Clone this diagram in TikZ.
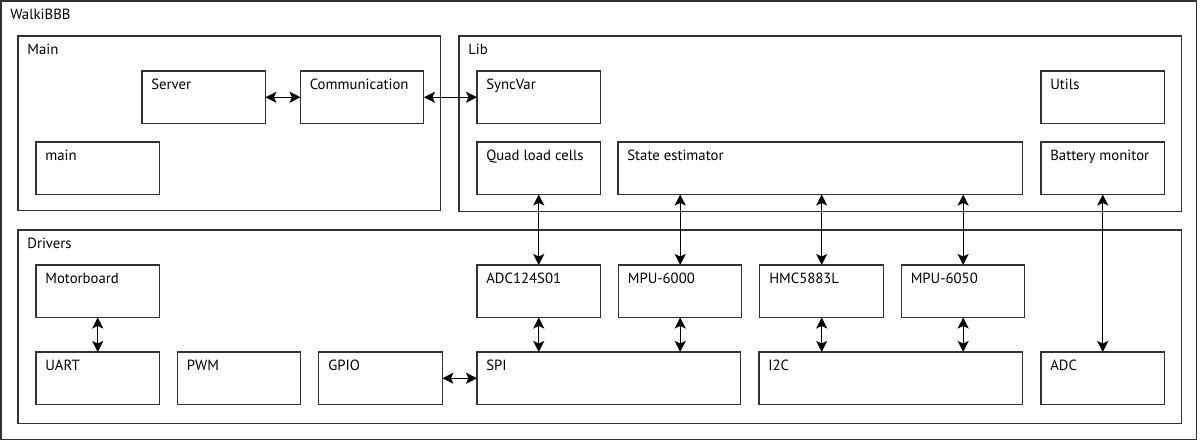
\documentclass[tikz,border=0pt]{standalone}
\usepackage{fontspec}
\setmainfont{PT Sans}
\usetikzlibrary{arrows.meta, positioning}

\tikzset{
  panel/.style={draw=black!80, line width=0.6pt, anchor=north west, inner sep=0pt, outer sep=0pt},
  blk/.style={panel, minimum width=2.47cm, minimum height=1.05cm},
  wideblk/.style={blk, minimum width=#1},
  tag/.style={label={[anchor=north west, inner sep=0pt, xshift=0.18cm, yshift=-0.15cm]north west:#1}},
  link/.style={{Stealth[length=2.2mm,width=2.2mm,inset=0.5mm]}-{Stealth[length=2.2mm,width=2.2mm,inset=0.5mm]}, line width=0.7pt}
}

\begin{document}
\begin{tikzpicture}[x=0.02cm, y=-0.02cm, font=\fontsize{8.4pt}{10pt}\selectfont]
\useasboundingbox (0,0) rectangle (1200,442);

% frames
\node[panel, minimum width=23.92cm, minimum height=8.78cm, tag=WalkiBBB] (top) at (1,1) {};
\node[panel, minimum width=8.46cm, minimum height=3.5cm, tag=Main] (mainpk) at (18,36) {};
\node[panel, minimum width=14.46cm, minimum height=3.52cm, tag=Lib] (libpk) at (459,36) {};
\node[panel, minimum width=23.28cm, minimum height=3.88cm, tag=Drivers] (drvpk) at (18,230) {};

% Main
\node[blk, tag=Server] (server) at (142,71) {};
\node[blk, right=0.7cm of server, tag=Communication] (comm) {};
\node[blk, tag=main] (mainfn) at (36,142) {};

% Lib
\node[blk, tag=SyncVar] (sync) at (477,71) {};
\node[blk, tag=Utils] (utils) at (1041,71) {};
\node[blk, tag=Quad load cells] (quad) at (477,142) {};
\node[wideblk=8.1cm, tag=State estimator] (state) at (618,142) {};
\node[blk, tag=Battery monitor] (battery) at (1041,142) {};

% Drivers
\node[blk, tag=Motorboard] (motor) at (36,265) {};
\node[blk, tag=ADC124S01] (adcc) at (477,265) {};
\node[blk, right=0.36cm of adcc, tag=MPU-6000] (mpu0) {};
\node[blk, right=0.36cm of mpu0, tag=HMC5883L] (hmc) {};
\node[blk, right=0.36cm of hmc, tag=MPU-6050] (mpu5) {};
\node[blk, tag=UART] (uart) at (36,352) {};
\node[blk, right=0.36cm of uart, tag=PWM] (pwm) {};
\node[blk, right=0.36cm of pwm, tag=GPIO] (gpio) {};
\node[wideblk=5.28cm, tag=SPI] (spi) at (477,352) {};
\node[wideblk=5.28cm, tag=I2C] (i2c) at (759,352) {};
\node[blk, tag=ADC] (adc) at (1041,352) {};

% links
\draw[link] (server.east) -- (comm.west);
\draw[link] (comm.east) -- (sync.west);
\draw[link] (quad.south) -- (adcc.north);
\draw[link] (mpu0.north) -- (mpu0.north |- state.south);
\draw[link] (hmc.north) -- (hmc.north |- state.south);
\draw[link] (mpu5.north) -- (mpu5.north |- state.south);
\draw[link] (battery.south) -- (adc.north);
\draw[link] (motor.south) -- (uart.north);
\draw[link] (adcc.south) -- (adcc.south |- spi.north);
\draw[link] (mpu0.south) -- (mpu0.south |- spi.north);
\draw[link] (hmc.south) -- (hmc.south |- i2c.north);
\draw[link] (mpu5.south) -- (mpu5.south |- i2c.north);
\draw[link] (gpio.east) -- (spi.west);
\end{tikzpicture}
\end{document}
